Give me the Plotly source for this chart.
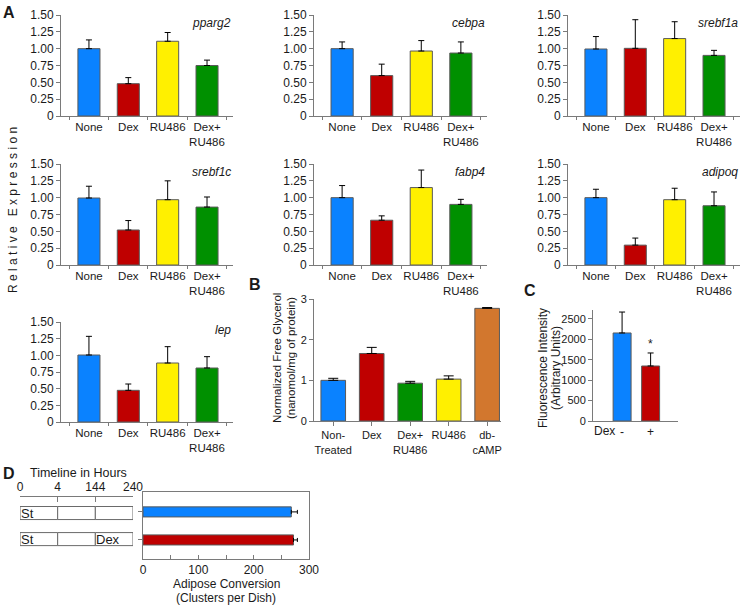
import plotly.graph_objects as go

W, H = 745, 609

# ---- Panel A: relative expression (mean, upper error) ----
treatments = ["None", "Dex", "RU486", "Dex+<br>RU486"]
genes = ["pparg2", "cebpa", "srebf1a", "srebf1c", "fabp4", "adipoq", "lep"]
pparg2_mean = [1.00, 0.48, 1.11, 0.75]
pparg2_err = [0.13, 0.09, 0.13, 0.08]
cebpa_mean = [1.00, 0.60, 0.965, 0.935]
cebpa_err = [0.10, 0.17, 0.155, 0.165]
srebf1a_mean = [0.995, 1.005, 1.15, 0.90]
srebf1a_err = [0.185, 0.425, 0.25, 0.075]
srebf1c_mean = [0.995, 0.52, 0.97, 0.86]
srebf1c_err = [0.175, 0.14, 0.28, 0.15]
fabp4_mean = [1.00, 0.665, 1.15, 0.90]
fabp4_err = [0.18, 0.065, 0.26, 0.075]
adipoq_mean = [1.00, 0.295, 0.97, 0.88]
adipoq_err = [0.125, 0.105, 0.17, 0.205]
lep_mean = [1.005, 0.475, 0.885, 0.81]
lep_err = [0.28, 0.095, 0.245, 0.17]
expr_ticks = [0, 0.25, 0.5, 0.75, 1.0, 1.25, 1.5]
expr_tick_text = ["0", "0.25", "0.50", "0.75", "1.00", "1.25", "1.50"]

# ---- Panel B: free glycerol ----
glycerol_groups = ["Non-<br>Treated", "Dex", "Dex+<br>RU486", "RU486", "db-<br>cAMP"]
glycerol_mean = [1.00, 1.66, 0.93, 1.03, 2.77]
glycerol_err = [0.05, 0.15, 0.045, 0.08, 0.02]

# ---- Panel C: fluorescence ----
fluor_groups = ["-", "+"]
fluor_mean = [2157, 1348]
fluor_err = [513, 319]

# ---- Panel D: timeline + adipose conversion ----
timeline_hours = ["0", "4", "144", "240"]
timeline_rows = ["control", "dex"]
timeline_labels = [["St", "St"], ["", ""], ["", "Dex"]]  # per segment, per row
adipose_groups = ["control", "dex"]
adipose_mean = [268, 272]
adipose_err = [11, 7]

BLUE, RED, YELLOW, GREEN, ORANGE = "#0A82FF", "#BF0000", "#FFF000", "#009000", "#D2772E"
FONT = "Liberation Sans, Arial, sans-serif"
AXIS = "#7a7a7a"
TXT = "#1a1a1a"


def xdom(x0, x1):
    return [x0 / W, x1 / W]


def ydom(top, bottom):
    return [1 - bottom / H, 1 - top / H]


def ax(n):
    return "" if n == 1 else str(n)


fig = go.Figure()
layout = {}
annotations = []

# Panel A grid (pixel boxes)
cols = [(61, 233), (314, 487), (568, 740)]
rows = [(15, 116), (164, 265), (322, 422)]
gene_data = {
    "pparg2": (pparg2_mean, pparg2_err), "cebpa": (cebpa_mean, cebpa_err),
    "srebf1a": (srebf1a_mean, srebf1a_err), "srebf1c": (srebf1c_mean, srebf1c_err),
    "fabp4": (fabp4_mean, fabp4_err), "adipoq": (adipoq_mean, adipoq_err),
    "lep": (lep_mean, lep_err),
}
bar_line = dict(color="#5a5a5a", width=1)

for i, gene in enumerate(genes):
    n = i + 1
    c0, c1 = cols[i % 3]
    r0, r1 = rows[i // 3]
    mean, err = gene_data[gene]
    fig.add_trace(go.Bar(
        x=treatments, y=mean, width=0.56,
        marker=dict(color=[BLUE, RED, YELLOW, GREEN], line=bar_line),
        error_y=dict(type="data", array=err, arrayminus=[0] * len(err), symmetric=False,
                     color="black", thickness=1, width=3),
        xaxis="x" + ax(n), yaxis="y" + ax(n), showlegend=False,
    ))
    layout["xaxis" + ax(n)] = dict(
        domain=xdom(c0, c1), anchor="y" + ax(n), type="category", range=[-0.71, 3.66],
        showline=True, linecolor=AXIS, ticks="outside", tickson="boundaries", ticklen=3,
        tickcolor=AXIS, tickangle=0, tickfont=dict(size=11.5, color=TXT), showgrid=False)
    layout["yaxis" + ax(n)] = dict(
        domain=ydom(r0, r1), anchor="x" + ax(n), range=[0, 1.5], tickvals=expr_ticks,
        ticktext=expr_tick_text, showline=True, linecolor=AXIS, ticks="outside", ticklen=4,
        tickcolor=AXIS, tickfont=dict(size=12, color=TXT), showgrid=False, zeroline=False)
    annotations.append(dict(
        text="<i>" + gene + "</i>", x=c1 / W, y=1 - (r0 + 8) / H, xref="paper", yref="paper",
        xanchor="right", yanchor="middle", showarrow=False, font=dict(size=12, color=TXT)))

# Panel B
fig.add_trace(go.Bar(
    x=glycerol_groups, y=glycerol_mean, width=0.64,
    marker=dict(color=[BLUE, RED, GREEN, YELLOW, ORANGE], line=bar_line),
    error_y=dict(type="data", array=glycerol_err, arrayminus=[0] * 5, symmetric=False,
                 color="black", thickness=1, width=5),
    xaxis="x8", yaxis="y8", showlegend=False))
layout["xaxis8"] = dict(
    domain=xdom(314, 501), anchor="y8", type="category", range=[-0.5, 4.36],
    showline=True, linecolor=AXIS, ticks="outside", ticklen=4, tickcolor=AXIS, tickangle=0,
    tickfont=dict(size=11, color=TXT), showgrid=False)
layout["yaxis8"] = dict(
    domain=ydom(299, 421), anchor="x8", range=[0, 3], tickvals=[0, 1, 2, 3],
    showline=True, linecolor=AXIS, ticks="outside", ticklen=4, tickcolor=AXIS,
    tickfont=dict(size=11, color=TXT), showgrid=False, zeroline=False)

# Panel C
fig.add_trace(go.Bar(
    x=fluor_groups, y=fluor_mean, width=0.63,
    marker=dict(color=[BLUE, RED], line=bar_line),
    error_y=dict(type="data", array=fluor_err, arrayminus=[0, 0], symmetric=False,
                 color="black", thickness=1, width=3),
    xaxis="x9", yaxis="y9", showlegend=False))
layout["xaxis9"] = dict(
    domain=xdom(593, 678), anchor="y9", type="category", range=[-1.02, 1.96],
    showline=True, linecolor=AXIS, ticks="", tickangle=0,
    tickfont=dict(size=12, color=TXT), showgrid=False)
layout["yaxis9"] = dict(
    domain=ydom(310, 421), anchor="x9", range=[0, 2720], tickvals=[0, 500, 1000, 1500, 2000, 2500],
    showline=True, linecolor=AXIS, ticks="outside", ticklen=4, tickcolor=AXIS,
    tickfont=dict(size=11, color=TXT), showgrid=False, zeroline=False)
annotations.append(dict(text="*", x=1, y=fluor_mean[1] + fluor_err[1], xref="x9", yref="y9",
                        yanchor="bottom", showarrow=False, font=dict(size=12, color=TXT)))

# Panel D: timeline boxes (one segment per interval between ticks)
for j in range(len(timeline_hours) - 1):
    fig.add_trace(go.Bar(
        y=timeline_rows, x=[1] * len(timeline_rows), base=[j] * len(timeline_rows),
        orientation="h", width=0.5,
        marker=dict(color="white", line=dict(color="#6a6a6a", width=1)),
        xaxis="x10", yaxis="y10", showlegend=False, hoverinfo="skip"))
    for r, row in enumerate(timeline_rows):
        if timeline_labels[j][r]:
            annotations.append(dict(
                text=timeline_labels[j][r], x=j, y=row, xref="x10", yref="y10",
                xanchor="left", yanchor="middle", showarrow=False, xshift=-1,
                font=dict(size=13, color=TXT)))
layout["xaxis10"] = dict(
    domain=xdom(20, 133), anchor="y10", side="top", range=[0, 3],
    tickvals=list(range(len(timeline_hours))), ticktext=timeline_hours,
    showline=True, linecolor=AXIS, ticks="inside", ticklen=5, tickcolor=AXIS,
    tickfont=dict(size=12, color=TXT), showgrid=False, zeroline=False)
layout["yaxis10"] = dict(
    domain=ydom(497, 549), anchor="x10", type="category", range=[1.38, -0.615],
    visible=False)

# Panel D: adipose conversion
fig.add_trace(go.Bar(
    y=adipose_groups, x=adipose_mean, orientation="h", width=0.36,
    marker=dict(color=[BLUE, RED], line=bar_line),
    error_x=dict(type="data", array=adipose_err, arrayminus=[0, 0], symmetric=False,
                 color="black", thickness=1, width=2),
    xaxis="x11", yaxis="y11", showlegend=False))
layout["xaxis11"] = dict(
    domain=xdom(143, 309), anchor="y11", range=[0, 300],
    tickvals=[0, 50, 100, 150, 200, 250, 300], ticktext=["0", "", "100", "", "200", "", "300"],
    showline=True, mirror=True, linecolor=AXIS, ticks="inside", ticklen=4, tickcolor=AXIS,
    tickangle=0, tickfont=dict(size=12, color=TXT), showgrid=False, zeroline=False)
layout["yaxis11"] = dict(
    domain=ydom(492, 559), anchor="x11", type="category", range=[1.68, -0.71],
    showline=True, mirror=True, linecolor=AXIS, ticks="outside", ticklen=4, tickcolor=AXIS,
    showticklabels=False, showgrid=False)


def label(text, x, y, size=12, angle=0, bold=False):
    """Free text placed by pixel position (centre)."""
    if bold:
        text = "<b>" + text + "</b>"
    annotations.append(dict(text=text, x=x / W, y=1 - y / H, xref="paper", yref="paper",
                            xanchor="center", yanchor="middle", showarrow=False,
                            textangle=angle, font=dict(size=size, color=TXT)))


# panel letters
for letter, (lx, ly) in {"A": (9, 13), "B": (255, 284), "C": (530, 290), "D": (9, 473)}.items():
    label(letter, lx, ly, size=16, bold=True)

label(" ".join("Relative") + "\u00a0\u00a0 " + " ".join("Expression"), 13, 210, size=12, angle=-90)
label("Normalized Free Glycerol", 277, 358, size=11.5, angle=-90)
label("(nanomol/mg of protein)", 291, 358, size=11.5, angle=-90)
label("Fluorescence Intensity", 543, 368, size=12, angle=-90)
label("(Arbitrary Units)", 556, 368, size=12, angle=-90)
label("Dex", 604, 431)
label("Timeline in Hours", 78, 473, size=12.5)
label("Adipose Conversion", 226, 584)
label("(Clusters per Dish)", 226, 597.5)

fig.update_layout(
    width=W, height=H, margin=dict(l=0, r=0, t=0, b=0, autoexpand=False),
    paper_bgcolor="white", plot_bgcolor="white", barmode="overlay",
    font=dict(family=FONT, color=TXT), annotations=annotations, **layout)

# the page body has a default 8px margin; drop it so the figure sits at the window origin
fig.write_html("out.html", config={"displayModeBar": False},
               post_script="document.body.style.margin = '0';")
